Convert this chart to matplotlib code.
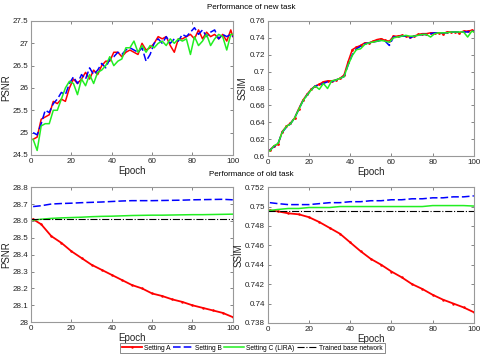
import matplotlib
matplotlib.use("Agg")
import matplotlib.pyplot as plt
from matplotlib.ticker import FormatStrFormatter

# ---- new task (sampled every 2 epochs) ----
epochs_new = [1, 3, 5, 7, 9, 11, 13, 15, 17, 19, 21, 23, 25, 27, 29, 31, 33, 35, 37, 39,
              41, 43, 45, 47, 49, 51, 53, 55, 57, 59, 61, 63, 65, 67, 69, 71, 73, 75, 77, 79,
              81, 83, 85, 87, 89, 91, 93, 95, 97, 99, 100]

psnr_new_a = [24.85, 24.9, 25.3, 25.35, 25.4, 25.7, 25.65, 25.75, 25.7, 26.0, 26.2, 26.1, 26.2, 26.35, 26.2,
              26.4, 26.3, 26.5, 26.6, 26.6, 26.8, 26.8, 26.7, 26.8, 26.85, 26.8, 26.75, 27.0, 26.85, 26.9,
              27.0, 27.15, 27.1, 27.15, 26.95, 26.8, 27.1, 27.1, 27.15, 27.2, 27.1, 27.3, 27.1, 27.25, 27.15,
              27.2, 27.1, 27.2, 27.05, 27.3, 27.15]
psnr_new_b = [25.0, 24.95, 25.2, 25.5, 25.45, 25.65, 25.75, 25.9, 25.85, 26.1, 26.25, 26.1, 26.3, 26.2, 26.45,
              26.3, 26.4, 26.55, 26.45, 26.65, 26.7, 26.8, 26.75, 26.85, 26.9, 26.85, 26.8, 26.9, 26.6, 26.75,
              27.0, 27.1, 27.0, 27.15, 27.0, 27.1, 27.05, 27.2, 27.15, 27.25, 27.35, 27.2, 27.3, 27.15, 27.25,
              27.3, 27.1, 27.2, 27.15, 27.2, 27.15]
psnr_new_c = [24.85, 24.6, 25.15, 25.2, 25.2, 25.5, 25.5, 25.75, 26.0, 26.15, 26.1, 25.85, 26.2, 26.05, 26.3,
              26.1, 26.35, 26.4, 26.5, 26.7, 26.5, 26.6, 26.65, 26.9, 26.9, 27.05, 26.8, 26.95, 26.8, 26.95,
              26.9, 27.0, 27.05, 26.95, 27.1, 27.0, 27.1, 27.05, 27.1, 26.75, 27.15, 26.95, 27.05, 27.2, 26.95,
              27.1, 27.2, 27.15, 26.85, 27.2, 27.2]

ssim_new_a = [0.607, 0.612, 0.614, 0.629, 0.635, 0.639, 0.645, 0.656, 0.666, 0.673, 0.679, 0.683, 0.685, 0.688, 0.689,
              0.689, 0.690, 0.692, 0.696, 0.712, 0.726, 0.729, 0.731, 0.734, 0.734, 0.736, 0.738, 0.739, 0.737, 0.736,
              0.742, 0.742, 0.743, 0.742, 0.741, 0.742, 0.744, 0.745, 0.745, 0.746, 0.746, 0.746, 0.745, 0.747, 0.747,
              0.747, 0.746, 0.748, 0.748, 0.749, 0.748]
ssim_new_b = [0.607, 0.611, 0.615, 0.628, 0.634, 0.638, 0.645, 0.655, 0.665, 0.672, 0.678, 0.683, 0.684, 0.686, 0.688,
              0.688, 0.690, 0.692, 0.694, 0.708, 0.720, 0.727, 0.730, 0.733, 0.734, 0.735, 0.736, 0.737, 0.736, 0.731,
              0.741, 0.741, 0.742, 0.742, 0.740, 0.742, 0.743, 0.744, 0.744, 0.745, 0.746, 0.746, 0.746, 0.746, 0.747,
              0.747, 0.747, 0.747, 0.747, 0.748, 0.748]
ssim_new_c = [0.606, 0.612, 0.615, 0.628, 0.635, 0.638, 0.645, 0.655, 0.665, 0.672, 0.678, 0.683, 0.679, 0.686, 0.680,
              0.689, 0.690, 0.692, 0.694, 0.708, 0.719, 0.726, 0.727, 0.732, 0.734, 0.735, 0.736, 0.737, 0.736, 0.735,
              0.740, 0.741, 0.742, 0.743, 0.742, 0.742, 0.743, 0.744, 0.744, 0.741, 0.745, 0.746, 0.746, 0.746, 0.747,
              0.747, 0.747, 0.747, 0.741, 0.748, 0.747]

# ---- old task (smooth, sampled every 5 epochs) ----
epochs_old = [1, 5, 10, 15, 20, 25, 30, 35, 40, 45, 50, 55, 60, 65, 70, 75, 80, 85, 90, 95, 100]

psnr_old_a = [28.61, 28.58, 28.51, 28.47, 28.42, 28.38, 28.34, 28.31, 28.28, 28.25, 28.22, 28.20, 28.17,
              28.155, 28.135, 28.12, 28.10, 28.085, 28.07, 28.055, 28.03]
psnr_old_b = [28.685, 28.69, 28.70, 28.703, 28.705, 28.708, 28.71, 28.712, 28.715, 28.718, 28.72, 28.72, 28.72,
              28.721, 28.722, 28.723, 28.725, 28.726, 28.727, 28.728, 28.725]
psnr_old_c = [28.605, 28.61, 28.615, 28.618, 28.62, 28.622, 28.625, 28.627, 28.628, 28.63, 28.632, 28.633, 28.634,
              28.634, 28.635, 28.636, 28.637, 28.637, 28.638, 28.639, 28.64]
psnr_base = 28.61

ssim_old_a = [0.7496, 0.7495, 0.7493, 0.7492, 0.7489, 0.7484, 0.7478, 0.7472, 0.7463, 0.7454, 0.7446, 0.7440,
              0.7433, 0.7427, 0.7420, 0.7415, 0.7409, 0.7404, 0.7400, 0.7396, 0.7391]
ssim_old_b = [0.7504, 0.7503, 0.7502, 0.7502, 0.7502, 0.7503, 0.7504, 0.7504, 0.7505, 0.7505, 0.7506, 0.7506,
              0.7507, 0.7507, 0.7508, 0.7508, 0.7509, 0.7509, 0.7510, 0.7510, 0.7511]
ssim_old_c = [0.7496, 0.7497, 0.7498, 0.7498, 0.7499, 0.7499, 0.7499, 0.7500, 0.7500, 0.7500, 0.7500, 0.7500,
              0.7500, 0.7500, 0.7500, 0.7500, 0.7501, 0.7501, 0.7501, 0.7501, 0.75005]
ssim_base = 0.74955

labels = ["Setting A", "Setting B", "Setting C (LIRA)", "Trained base network"]

plt.rcParams["font.family"] = "Liberation Sans"
fig = plt.figure(figsize=(4.86, 3.62), dpi=100)

ax_tl = fig.add_axes([0.064, 0.572, 0.415, 0.370])
ax_tr = fig.add_axes([0.551, 0.569, 0.424, 0.373])
ax_bl = fig.add_axes([0.064, 0.110, 0.415, 0.373])
ax_br = fig.add_axes([0.551, 0.108, 0.424, 0.375])

lw = 1.1
green = "#22ee22"
# new task
ax_tl.plot(epochs_new, psnr_new_a, color="red", lw=lw)
ax_tl.plot(epochs_new, psnr_new_b, color="blue", lw=lw, ls="--", dashes=(5, 2))
ax_tl.plot(epochs_new, psnr_new_c, color=green, lw=lw)
ax_tr.plot(epochs_new, ssim_new_a, color="red", lw=lw, marker=".", ms=2)
ax_tr.plot(epochs_new, ssim_new_b, color="blue", lw=lw, ls="--", dashes=(5, 2))
ax_tr.plot(epochs_new, ssim_new_c, color=green, lw=lw)

# old task
ax_bl.plot(epochs_old, psnr_old_a, color="red", lw=1.3, marker=".", ms=1.5)
ax_bl.plot(epochs_old, psnr_old_b, color="blue", lw=lw, ls="--", dashes=(5, 2))
ax_bl.plot(epochs_old, psnr_old_c, color=green, lw=lw)
ax_bl.plot([0, 100], [psnr_base, psnr_base], color="black", lw=0.8, ls="-.")
ax_br.plot(epochs_old, ssim_old_a, color="red", lw=1.3, marker=".", ms=1.5, label=labels[0])
ax_br.plot(epochs_old, ssim_old_b, color="blue", lw=lw, ls="--", dashes=(5, 2), label=labels[1])
ax_br.plot(epochs_old, ssim_old_c, color=green, lw=lw, label=labels[2])
ax_br.plot([0, 100], [ssim_base, ssim_base], color="black", lw=0.8, ls="-.", label=labels[3])

ax_tl.set_ylim(24.5, 27.5)
ax_tl.set_yticks([24.5, 25, 25.5, 26, 26.5, 27, 27.5])
ax_tr.set_ylim(0.6, 0.76)
ax_tr.set_yticks([0.6, 0.62, 0.64, 0.66, 0.68, 0.7, 0.72, 0.74, 0.76])
ax_bl.set_ylim(28.0, 28.8)
ax_bl.set_yticks([28, 28.1, 28.2, 28.3, 28.4, 28.5, 28.6, 28.7, 28.8])
ax_br.set_ylim(0.738, 0.752)
ax_br.set_yticks([0.738, 0.74, 0.742, 0.744, 0.746, 0.748, 0.75, 0.752])

for ax, yl in [(ax_tl, "PSNR"), (ax_tr, "SSIM"), (ax_bl, "PSNR"), (ax_br, "SSIM")]:
    ax.set_xlim(0, 100)
    ax.set_xticks([0, 20, 40, 60, 80, 100])
    ax.yaxis.set_major_formatter(FormatStrFormatter("%g"))
    ax.tick_params(direction="in", length=2.5, width=0.5, labelsize=5.8, color="#555555",
                   labelcolor="#222222", top=True, right=True, pad=2)
    for s in ax.spines.values():
        s.set_color("#999999")
        s.set_linewidth(0.8)
    ax.set_xlabel("Epoch", fontsize=7, labelpad=1, color="#222222")
    ax.set_ylabel(yl, fontsize=7, labelpad=1, color="#222222")

fig.text(0.517, 0.978, "Performance of new task", ha="center", va="center", fontsize=5.8)
fig.text(0.517, 0.519, "Performance of old task", ha="center", va="center", fontsize=5.8)

leg = fig.legend(loc="center", bbox_to_anchor=(0.519, 0.038), ncol=4, fontsize=4.8,
                 frameon=True, fancybox=False, edgecolor="#555555", handlelength=3.0,
                 columnspacing=0.4, handletextpad=0.3, borderpad=0.25)
leg.get_frame().set_linewidth(0.6)

fig.savefig("out.png", dpi=100)
